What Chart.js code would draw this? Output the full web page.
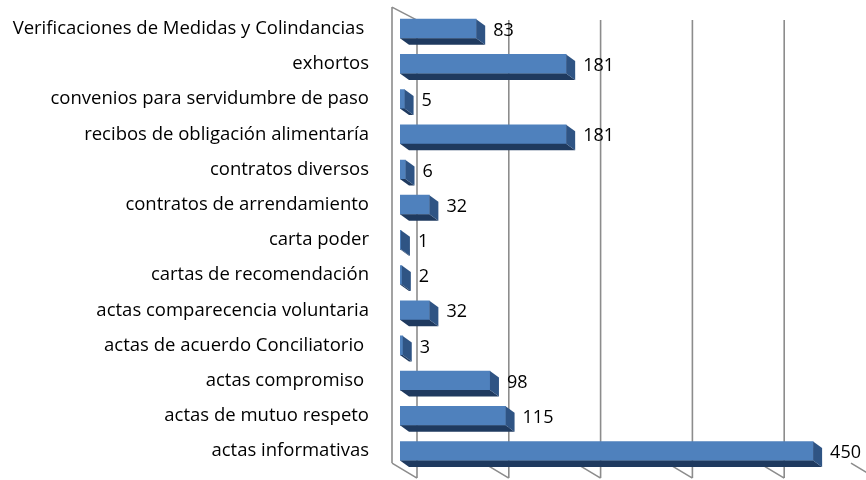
<!DOCTYPE html>
<html>
<head>
<meta charset="utf-8">
<script src="https://cdn.jsdelivr.net/npm/chart.js@4.4.1/dist/chart.umd.min.js"></script>
<style>
  html, body { margin: 0; padding: 0; background: #ffffff; }
  #wrap { width: 866px; height: 480px; position: relative; }
</style>
</head>
<body>
<div id="wrap"><canvas id="c"></canvas></div>
<script>
const categories = [
  "Verificaciones de Medidas y Colindancias ",
  "exhortos",
  "convenios para servidumbre de paso",
  "recibos de obligación alimentaría",
  "contratos diversos",
  "contratos de arrendamiento",
  "carta poder",
  "cartas de recomendación",
  "actas comparecencia voluntaria",
  "actas de acuerdo Conciliatorio ",
  "actas compromiso ",
  "actas de mutuo respeto",
  "actas informativas"
];
const values = [83, 181, 5, 181, 6, 32, 1, 2, 32, 3, 98, 115, 450];
const gridValues = [0, 100, 200, 300, 400, 500];

const FONT = "'Open Sans', 'DejaVu Sans', sans-serif";

const threeD = {
  id: 'threeD',
  beforeDatasetsDraw(chart) {
    const ctx = chart.ctx;
    const xs = chart.scales.x;
    const ca = chart.chartArea;
    const frontTop = ca.top - 4, frontBot = ca.bottom - 5.5;
    const backTop = ca.top + 9, backBot = ca.bottom + 9.5;
    ctx.save();
    ctx.strokeStyle = '#8c8c8c';
    ctx.lineWidth = 1.6;
    const x0f = xs.getPixelForValue(0) - 8;
    const x0b = xs.getPixelForValue(0) + 17;
    ctx.beginPath();
    ctx.moveTo(x0f, frontTop); ctx.lineTo(x0f, frontBot);
    ctx.moveTo(x0f, frontTop); ctx.lineTo(x0b, backTop);
    ctx.stroke();
    gridValues.forEach(v => {
      const xf = xs.getPixelForValue(v) - 8;
      const xb = xs.getPixelForValue(v) + 17;
      ctx.beginPath();
      ctx.moveTo(xb, backTop); ctx.lineTo(xb, backBot);
      ctx.moveTo(xf, frontBot); ctx.lineTo(xb, backBot);
      ctx.stroke();
    });
    ctx.restore();
  },
  afterDatasetsDraw(chart) {
    const ctx = chart.ctx;
    const meta = chart.getDatasetMeta(0);
    const dx = 9, dy = 6.5;
    ctx.save();
    meta.data.forEach((bar, i) => {
      const p = bar.getProps(['x', 'y', 'base', 'height'], true);
      const left = p.base, right = p.x;
      const top = p.y - p.height / 2, bot = p.y + p.height / 2;
      ctx.fillStyle = '#1f3a5f';
      ctx.beginPath();
      ctx.moveTo(left, bot); ctx.lineTo(right, bot);
      ctx.lineTo(right + dx, bot + dy); ctx.lineTo(left + dx, bot + dy);
      ctx.closePath(); ctx.fill();
      ctx.fillStyle = '#2f5484';
      ctx.beginPath();
      ctx.moveTo(right, top); ctx.lineTo(right + dx, top + dy);
      ctx.lineTo(right + dx, bot + dy); ctx.lineTo(right, bot);
      ctx.closePath(); ctx.fill();
      ctx.fillStyle = '#000000';
      ctx.font = '18px ' + FONT;
      ctx.textAlign = 'left';
      ctx.textBaseline = 'middle';
      ctx.fillText(String(values[i]), right + 17, p.y + 2);
    });
    ctx.restore();
  }
};

const ctx = document.getElementById('c').getContext('2d');

new Chart(ctx, {
  type: 'bar',
  data: {
    labels: categories,
    datasets: [{
      data: values,
      backgroundColor: '#4f81bd',
      borderWidth: 0,
      barThickness: 19
    }]
  },
  options: {
    indexAxis: 'y',
    responsive: true,
    maintainAspectRatio: false,
    devicePixelRatio: 1,
    animation: false,
    layout: { padding: { left: 10, right: 7, top: 11, bottom: 11.4 } },
    plugins: { legend: { display: false }, tooltip: { enabled: false } },
    scales: {
      x: { display: false, min: 0, max: 500 },
      y: {
        grid: { display: false, drawTicks: true, tickLength: 31 },
        border: { display: false },
        ticks: { font: { family: FONT, size: 18.5 }, color: '#000000', padding: 0, autoSkip: false },
        afterFit(scale) { scale.width = 390; }
      }
    }
  },
  plugins: [threeD]
});
</script>
</body>
</html>
